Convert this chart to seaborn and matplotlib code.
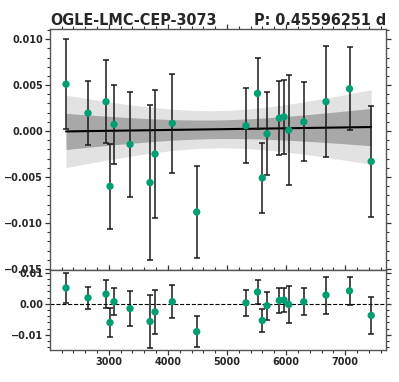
import numpy as np
import matplotlib
matplotlib.use("Agg")
import matplotlib.pyplot as plt
from matplotlib.ticker import MultipleLocator, AutoMinorLocator
import seaborn as sns

# observation epochs (HJD - 2450000), residual magnitudes and their errors
epochs = [2276, 2648, 2953, 3088, 3020, 3359, 3697, 3782, 4074, 4487, 5321,
          5516, 5597, 5677, 5885, 5964, 6044, 6299, 6675, 7073, 7440]
values = [0.0051, 0.00196, 0.0032, 0.00073, -0.0060, -0.00145, -0.0056,
          -0.0025, 0.00084, -0.0088, 0.00058, 0.0041, -0.0051, -0.0003,
          0.0014, 0.00155, 0.0001, 0.0010, 0.0032, 0.0046, -0.0033]
errors = [0.0049, 0.0035, 0.0045, 0.0043, 0.0046, 0.0057, 0.0084, 0.0070,
          0.0054, 0.0050, 0.0041, 0.0039, 0.0038, 0.0045, 0.0040, 0.0040,
          0.0060, 0.0043, 0.0060, 0.0045, 0.0060]

star_name = "OGLE-LMC-CEP-3073"
period_label = "P: 0.45596251 d"

x = np.array(epochs, dtype=float)
y = np.array(values)
e = np.array(errors)

# weighted linear fit and its 1/2 sigma bands
coef, cov = np.polyfit(x, y, 1, w=1 / e, cov="unscaled")
xs = np.linspace(x.min(), x.max(), 200)
fit = np.polyval(coef, xs)
sig = np.sqrt(cov[0, 0] * xs**2 + 2 * cov[0, 1] * xs + cov[1, 1])
resid = y - np.polyval(coef, x)

sns.set_style("ticks")
plt.rcParams["font.family"] = ["DejaVu Sans"]
plt.rcParams["font.weight"] = "bold"

green = sns.color_palette("colorblind")[2]
fig = plt.figure(figsize=(3.99, 3.82), dpi=100)
ax = fig.add_axes([0.1253, 0.2945, 0.8421, 0.6296])
axr = fig.add_axes([0.1253, 0.0825, 0.8421, 0.2120], sharex=ax)

ax.fill_between(xs, fit - 2 * sig, fit + 2 * sig, color="#e2e2e2", lw=0)
ax.fill_between(xs, fit - sig, fit + sig, color="#a8a8a8", lw=0)
ax.plot(xs, fit, color="black", lw=1.5)
ax.errorbar(x, y, yerr=e, fmt="none", ecolor="#1a1a1a", elinewidth=1.1,
            capsize=2.5, capthick=1.1)
sns.scatterplot(x=x, y=y, ax=ax, color=green, s=28, edgecolor="none", zorder=5)

axr.axhline(0, color="black", lw=0.8, ls="--")
axr.errorbar(x, resid, yerr=e, fmt="none", ecolor="#1a1a1a", elinewidth=1.1,
             capsize=2.5, capthick=1.1)
sns.scatterplot(x=x, y=resid, ax=axr, color=green, s=28, edgecolor="none", zorder=5)

for a in (ax, axr):
    a.set_xlim(2005, 7690)
    a.set_ylim(-0.01505, 0.0111)
    a.xaxis.set_major_locator(MultipleLocator(1000))
    a.xaxis.set_minor_locator(MultipleLocator(200))
    a.yaxis.set_minor_locator(AutoMinorLocator(5))
    a.tick_params(which="both", direction="out", left=True, right=True,
                  top=True, bottom=True, labelsize=7, pad=1.5, color="#333333")
    a.tick_params(which="major", length=3.5, width=0.9)
    a.tick_params(which="minor", length=2, width=0.8)
    for s in a.spines.values():
        s.set_color("#555555")
        s.set_linewidth(1.0)
    a.set_xlabel("")
    a.set_ylabel("")

ax.yaxis.set_major_locator(MultipleLocator(0.005))
axr.yaxis.set_major_locator(MultipleLocator(0.01))
ax.tick_params(which="both", bottom=False, labelbottom=False)

fig.text(0.1253, 0.9346, star_name, ha="left", va="baseline", fontsize=11.5,
         fontweight="bold", fontstretch="condensed", family="DejaVu Sans")
fig.text(0.9674, 0.9346, period_label, ha="right", va="baseline", fontsize=11.5,
         fontweight="bold", fontstretch="condensed", family="DejaVu Sans")

fig.savefig("out.png", dpi=100)
